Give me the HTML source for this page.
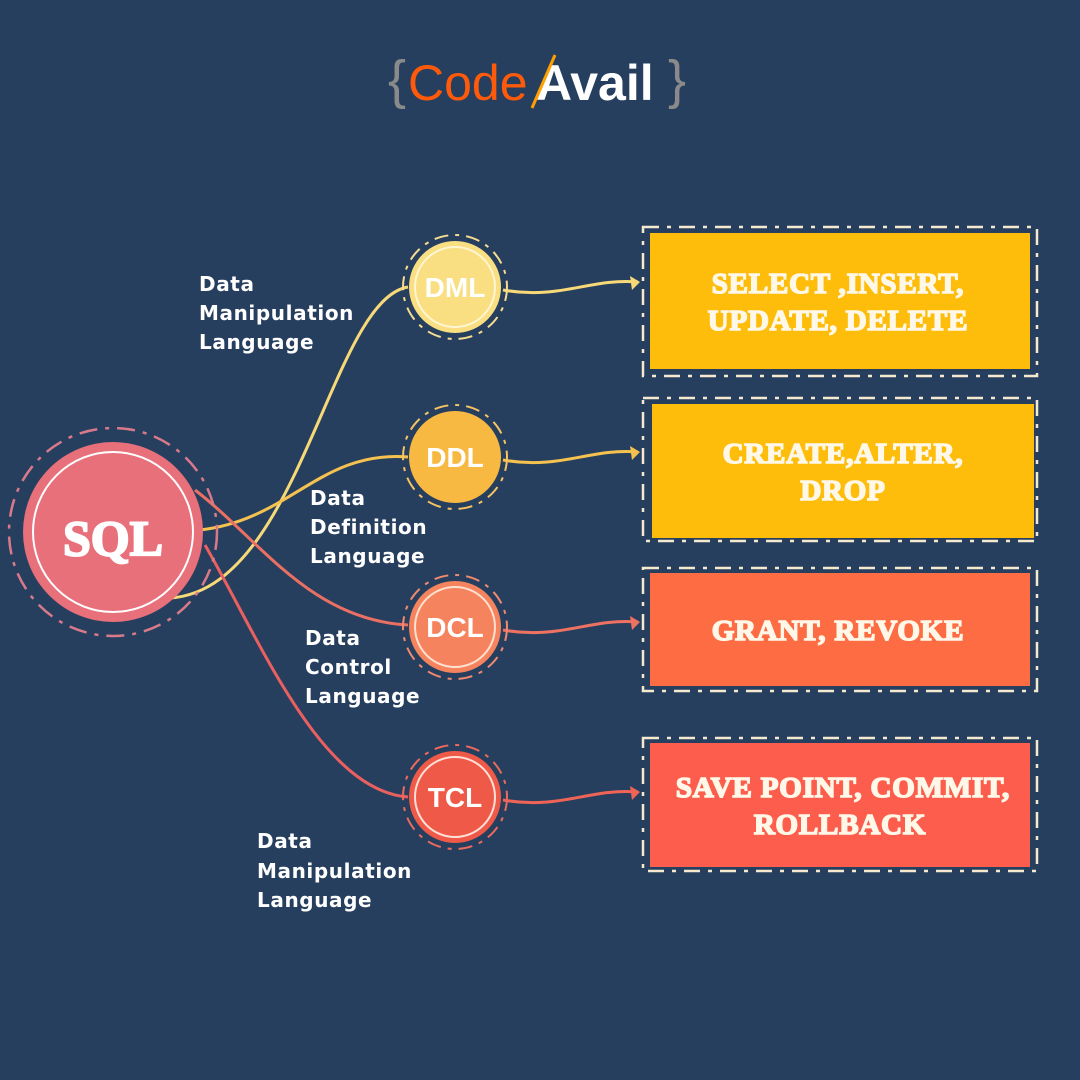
<!DOCTYPE html>
<html><head><style>
html,body{margin:0;padding:0;background:#273f5f;}
svg{display:block}
.lb{font-family:"DejaVu Sans","Liberation Sans",sans-serif;font-weight:bold;font-size:20px;fill:#fff;letter-spacing:0.6px}
.bx{font-family:"Liberation Serif",serif;font-weight:900;font-size:29px;fill:#fff8e8;stroke:#fff8e8;stroke-width:1.6;text-anchor:middle;letter-spacing:0.8px}
.cl{font-family:"Liberation Sans",sans-serif;font-weight:bold;font-size:28px;fill:#fff;text-anchor:middle}
</style></head><body>
<svg width="1080" height="1080" viewBox="0 0 1080 1080" xmlns="http://www.w3.org/2000/svg">
<rect width="1080" height="1080" fill="#273f5f"/>
<!-- logo -->
<text x="388" y="98" font-family="Liberation Sans,sans-serif" font-size="54" fill="#8a8a8a">{</text>
<text x="408" y="100" font-family="Liberation Sans,sans-serif" font-size="50" fill="#ff5a0a">Code</text>
<text x="536" y="100" font-family="Liberation Sans,sans-serif" font-weight="bold" font-size="50" fill="#fff">Avail</text>
<line x1="532" y1="108" x2="555" y2="55" stroke="#ffa000" stroke-width="3"/>
<text x="668" y="98" font-family="Liberation Sans,sans-serif" font-size="54" fill="#8a8a8a">}</text>

<!-- connectors -->
<g fill="none" stroke-width="3">
<path d="M170 598 C300 590 330 300 408 287" stroke="#f7d978"/>
<path d="M200 530 C290 520 320 450 408 457" stroke="#f5c250"/>
<path d="M195 490 C260 540 310 620 408 625" stroke="#ea7063"/>
<path d="M205 545 C260 640 320 790 408 797" stroke="#ea6060"/>
<path d="M503 290 C560 300 590 278 638 282" stroke="#f7d978"/>
<path d="M503 460 C560 470 590 448 638 452" stroke="#f5c250"/>
<path d="M503 630 C560 640 590 618 638 622" stroke="#ee7262"/>
<path d="M503 800 C560 810 590 788 638 792" stroke="#ef6457"/>
</g>
<g>
<polygon points="640,282 630,276 632,290" fill="#f7d978"/>
<polygon points="640,452 630,446 632,460" fill="#f5c250"/>
<polygon points="640,622 630,616 632,630" fill="#ee7262"/>
<polygon points="640,792 630,786 632,800" fill="#ef6457"/>
</g>

<!-- SQL -->
<circle cx="113" cy="532" r="104" fill="none" stroke="#d97a8a" stroke-width="2.5" stroke-dasharray="18 8 4 8"/>
<circle cx="113" cy="532" r="90" fill="#e8707a"/>
<circle cx="113" cy="532" r="80" fill="none" stroke="#fff" stroke-width="2"/>
<text x="113" y="555" text-anchor="middle" font-family="Liberation Serif,serif" font-weight="900" font-size="50" fill="#fff" stroke="#fff" stroke-width="2">SQL</text>

<!-- small circles -->
<g>
<circle cx="455" cy="287" r="52" fill="none" stroke="#f7dd90" stroke-width="2" stroke-dasharray="14 7 4 7"/>
<circle cx="455" cy="287" r="46" fill="#f9df82"/>
<circle cx="455" cy="287" r="40" fill="none" stroke="#fff5d0" stroke-width="2"/>
<text class="cl" x="455" y="297">DML</text>

<circle cx="455" cy="457" r="52" fill="none" stroke="#f6c462" stroke-width="2" stroke-dasharray="14 7 4 7"/>
<circle cx="455" cy="457" r="46" fill="#f8b942"/>
<text class="cl" x="455" y="467">DDL</text>

<circle cx="455" cy="627" r="52" fill="none" stroke="#f28a70" stroke-width="2" stroke-dasharray="14 7 4 7"/>
<circle cx="455" cy="627" r="46" fill="#f5845e"/>
<circle cx="455" cy="627" r="40" fill="none" stroke="#ffe0d0" stroke-width="2"/>
<text class="cl" x="455" y="637">DCL</text>

<circle cx="455" cy="797" r="52" fill="none" stroke="#ee6a5c" stroke-width="2" stroke-dasharray="14 7 4 7"/>
<circle cx="455" cy="797" r="46" fill="#ef5a48"/>
<circle cx="455" cy="797" r="40" fill="none" stroke="#ffe0d8" stroke-width="2"/>
<text class="cl" x="455" y="807">TCL</text>
</g>

<!-- labels -->
<text class="lb" x="199" y="291">Data</text>
<text class="lb" x="199" y="320">Manipulation</text>
<text class="lb" x="199" y="349">Language</text>
<text class="lb" x="310" y="505">Data</text>
<text class="lb" x="310" y="534">Definition</text>
<text class="lb" x="310" y="563">Language</text>
<text class="lb" x="305" y="645">Data</text>
<text class="lb" x="305" y="674">Control</text>
<text class="lb" x="305" y="703">Language</text>
<text class="lb" x="257" y="848">Data</text>
<text class="lb" x="257" y="878">Manipulation</text>
<text class="lb" x="257" y="907">Language</text>

<!-- boxes -->
<g fill="none" stroke="#f5ead0" stroke-width="2.5" stroke-dasharray="16 8 4 8">
<rect x="643" y="227" width="394" height="149"/>
<rect x="643" y="398" width="394" height="143"/>
<rect x="643" y="568" width="394" height="123"/>
<rect x="643" y="738" width="394" height="133"/>
</g>
<rect x="650" y="233" width="380" height="136" fill="#fdbd0a"/>
<rect x="652" y="404" width="382" height="134" fill="#fdbd0a"/>
<rect x="650" y="573" width="380" height="113" fill="#fe6c43"/>
<rect x="650" y="743" width="380" height="124" fill="#fd5d4d"/>
<text class="bx" x="838" y="293">SELECT ,INSERT,</text>
<text class="bx" x="838" y="330">UPDATE, DELETE</text>
<text class="bx" x="843" y="463">CREATE,ALTER,</text>
<text class="bx" x="843" y="500">DROP</text>
<text class="bx" x="838" y="640">GRANT, REVOKE</text>
<text class="bx" x="843" y="797">SAVE POINT, COMMIT,</text>
<text class="bx" x="840" y="834">ROLLBACK</text>
</svg>
</body></html>
